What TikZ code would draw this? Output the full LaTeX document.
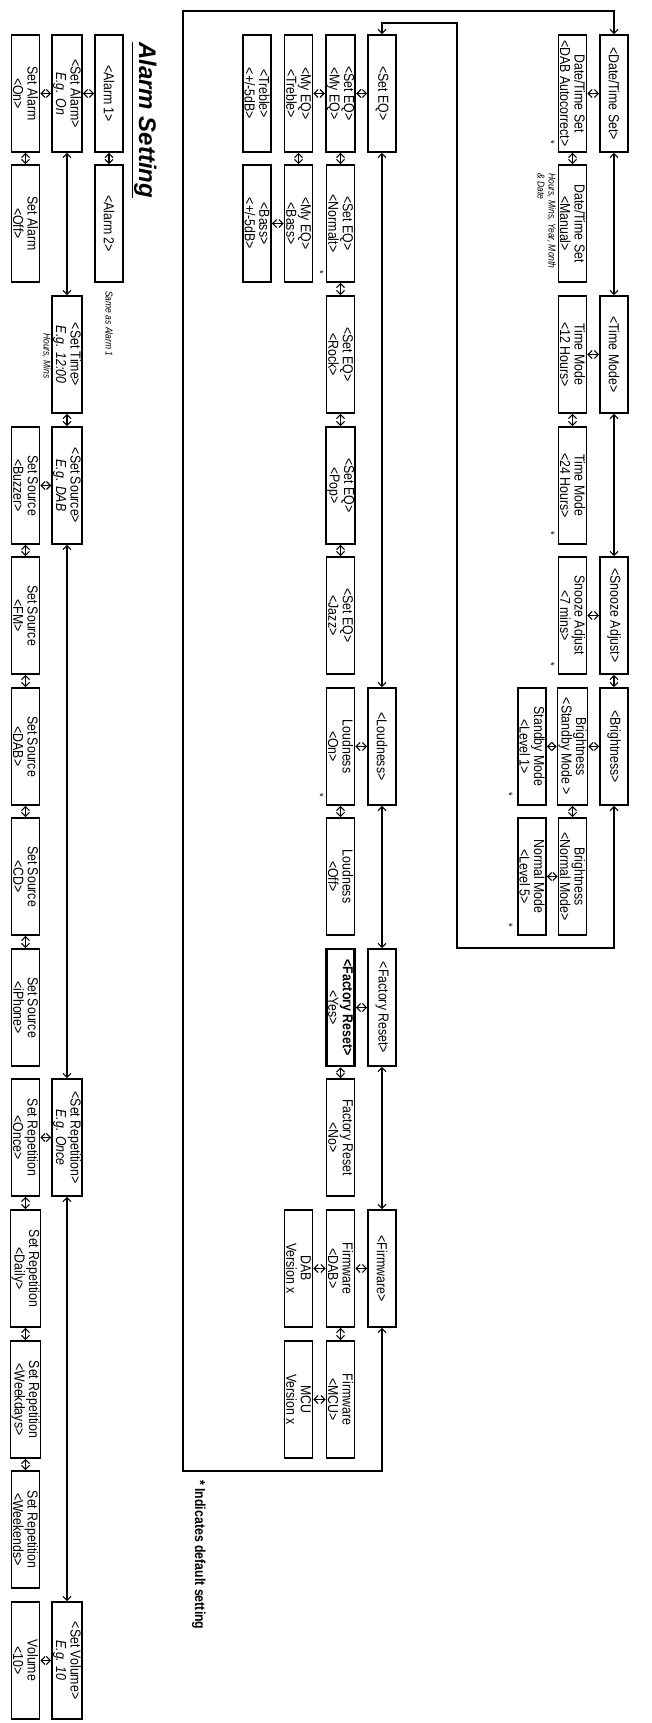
\documentclass[tikz,border=0pt]{standalone}
\usepackage{fontspec}
\setmainfont{Liberation Sans}[FakeStretch=0.85]
\newfontfamily\titlefont{Liberation Sans}
\usepackage{tikz}
\usetikzlibrary{arrows.meta}

\begin{document}
\begin{tikzpicture}[
  x=1pt, y=1pt, rotate=-90, transform shape,
  menu/.style={draw=black, line width=1.8pt, minimum width=117pt, minimum height=28pt, inner sep=1pt, align=center, font=\fontsize{14.5}{14.5}\selectfont},
  link/.style={{Straight Barb[length=4pt,width=8pt]}-{Straight Barb[length=4pt,width=8pt]}, line width=1.1pt},
  note/.style={inner sep=0pt, align=left, font=\fontsize{10}{11}\selectfont\itshape},
  dflt/.style={inner sep=0pt, font=\fontsize{11}{11}\selectfont},
]
\useasboundingbox (0,0) rectangle (1723,651);

% Alarm setting
\node[anchor=base west, inner sep=0pt, font=\titlefont\fontsize{24}{24}\selectfont\bfseries\itshape] (title) at (42,139) {\underline{Alarm Setting}};
\node[menu] (al1) at (93.5,109) {<Alarm 1>};
\node[menu] (al2) at (223.5,109) {<Alarm 2>};
\node[note, anchor=north west] (samenote) at (291,113) {Same as Alarm 1};

\node[menu] (salarm) at (93.5,67) {<Set Alarm>\\\textit{E.g. On}};
\node[menu] (stime) at (354.5,67) {<Set Time>\\\textit{E.g. 12:00}};
\node[note, anchor=north west] (hmsnote) at (333,51) {Hours, Mins};
\node[menu] (ssrc) at (485.5,67) {<Set Source>\\\textit{E.g. DAB}};
\node[menu] (srep) at (1137.5,67) {<Set Repetition>\\\textit{E.g. Once}};
\node[menu] (svol) at (1660.5,67) {<Set Volume>\\\textit{E.g. 10}};

\node[menu] (alon) at (93.5,25.5) {Set Alarm\\<On>};
\node[menu] (aloff) at (223.5,25.5) {Set Alarm\\<Off>};
\node[menu] (srcbuz) at (485.5,25.5) {Set Source\\<Buzzer>};
\node[menu] (srcfm) at (615.5,25.5) {Set Source\\<FM>};
\node[menu] (srcdab) at (746.5,25.5) {Set Source\\<DAB>};
\node[menu] (srccd) at (876.5,25.5) {Set Source\\<CD>};
\node[menu] (srcip) at (1007.5,25.5) {Set Source\\<iPhone>};
\node[menu] (reponce) at (1137.5,25.5) {Set Repetition\\<Once>};
\node[menu] (repdaily) at (1268.5,25.5) {Set Repetition\\<Daily>};
\node[menu] (repwkd) at (1399.5,25.5) {Set Repetition\\<Weekdays>};
\node[menu] (repwke) at (1529.5,25.5) {Set Repetition\\<Weekends>};
\node[menu] (vol) at (1660.5,25.5) {Volume\\<10>};

\draw[link] (al1.east) -- (al2.west);
\draw[link] (al1.south) -- (salarm.north);
\draw[link] (salarm.south) -- (alon.north);
\draw[link] (alon.east) -- (aloff.west);
\draw[link] (salarm.east) -- (stime.west);
\draw[link] (stime.east) -- (ssrc.west);
\draw[link] (ssrc.east) -- (srep.west);
\draw[link] (srep.east) -- (svol.west);
\draw[link] (ssrc.south) -- (srcbuz.north);
\draw[link] (srep.south) -- (reponce.north);
\draw[link] (svol.south) -- (vol.north);
\draw[link] (srcbuz.east) -- (srcfm.west);
\draw[link] (srcfm.east) -- (srcdab.west);
\draw[link] (srcdab.east) -- (srccd.west);
\draw[link] (srccd.east) -- (srcip.west);
\draw[link] (reponce.east) -- (repdaily.west);
\draw[link] (repdaily.east) -- (repwkd.west);
\draw[link] (repwkd.east) -- (repwke.west);

% Main menu: date, time, snooze, brightness
\node[menu] (dts) at (93.5,614) {<Date/Time Set>};
\node[menu] (tmode) at (354.5,614) {<Time Mode>};
\node[menu] (snz) at (615.5,614) {<Snooze Adjust>};
\node[menu] (brt) at (746.5,614) {<Brightness>};

\node[menu] (dtsauto) at (93.5,572.5) {Date/Time Set\\<DAB Autocorrect>};
\node[menu] (dtsman) at (223.5,572.5) {Date/Time Set\\<Manual>};
\node[note, anchor=north west] (hmnote) at (173,556) {Hours, Mins, Year, Month\\\& Date};
\node[menu] (tm12) at (354.5,572.5) {Time Mode\\<12 Hours>};
\node[menu] (tm24) at (485.5,572.5) {Time Mode\\<24 Hours>};
\node[menu] (snz7) at (615.5,572.5) {Snooze Adjust\\<7 mins>};
\node[menu] (brtsb) at (746.5,572.5) {Brightness\\<Standby Mode >};
\node[menu] (brtnm) at (876.5,572.5) {Brightness\\<Normal Mode>};
\node[menu] (sblvl) at (746.5,532) {Standby Mode\\<Level 1>};
\node[menu] (nmlvl) at (876.5,532) {Normal Mode\\<Level 5>};

\draw[link] (dts.south) -- (dtsauto.north);
\draw[link] (tmode.south) -- (tm12.north);
\draw[link] (snz.south) -- (snz7.north);
\draw[link] (brt.south) -- (brtsb.north);
\draw[link] (brtsb.south) -- (sblvl.north);
\draw[link] (brtnm.south) -- (nmlvl.north);
\draw[link] (dtsauto.east) -- (dtsman.west);
\draw[link] (tm12.east) -- (tm24.west);
\draw[link] (brtsb.east) -- (brtnm.west);
\draw[link] (dts.east) -- (tmode.west);
\draw[link] (tmode.east) -- (snz.west);
\draw[link] (snz.east) -- (brt.west);

% Main menu: EQ, loudness, reset, firmware
\node[menu] (seq) at (93.5,382) {<Set EQ>};
\node[menu] (loud) at (746.5,382) {<Loudness>};
\node[menu] (frst) at (1007.5,382) {<Factory Reset>};
\node[menu] (fw) at (1268.5,382) {<Firmware>};

\node[menu] (eqmy) at (93.5,340.5) {<Set EQ>\\<My EQ>};
\node[menu] (eqnorm) at (223.5,340.5) {<Set EQ>\\<Normalt>};
\node[menu] (eqrock) at (354.5,340.5) {<Set EQ>\\<Rock>};
\node[menu] (eqpop) at (485.5,340.5) {<Set EQ>\\<Pop>};
\node[menu] (eqjazz) at (615.5,340.5) {<Set EQ>\\<Jazz>};
\node[menu] (loudon) at (746.5,340.5) {Loudness\\<On>};
\node[menu] (loudoff) at (876.5,340.5) {Loudness\\<Off>};
\node[menu, line width=2.8pt] (frstyes) at (1007.5,340.5) {\textbf{<Factory Reset>}\\<Yes>};
\node[menu] (frstno) at (1137.5,340.5) {Factory Reset\\<No>};
\node[menu] (fwdab) at (1268.5,340.5) {Firmware\\<DAB>};
\node[menu] (fwmcu) at (1399.5,340.5) {Firmware\\<MCU>};

\node[menu] (mytreb) at (93.5,298.5) {<My EQ>\\<Treble>};
\node[menu] (mybass) at (223.5,298.5) {<My EQ>\\<Bass>};
\node[menu] (dabver) at (1268.5,298.5) {DAB\\Version x};
\node[menu] (mcuver) at (1399.5,298.5) {MCU\\Version x};
\node[menu] (treb) at (93.5,257) {<Treble>\\<+/-5dB>};
\node[menu] (bass) at (223.5,257) {<Bass>\\<+/-5dB>};

\draw[link] (seq.south) -- (eqmy.north);
\draw[link] (eqmy.south) -- (mytreb.north);
\draw[link] (mybass.south) -- (bass.north);
\draw[link] (loud.south) -- (loudon.north);
\draw[link] (frst.south) -- (frstyes.north);
\draw[link] (fw.south) -- (fwdab.north);
\draw[link] (fwdab.south) -- (dabver.north);
\draw[link] (fwmcu.south) -- (mcuver.north);
\draw[link] (eqmy.east) -- (eqnorm.west);
\draw[link] (eqnorm.east) -- (eqrock.west);
\draw[link] (eqrock.east) -- (eqpop.west);
\draw[link] (eqpop.east) -- (eqjazz.west);
\draw[link] (mytreb.east) -- (mybass.west);
\draw[link] (loudon.east) -- (loudoff.west);
\draw[link] (frstyes.east) -- (frstno.west);
\draw[link] (fwdab.east) -- (fwmcu.west);
\draw[link] (seq.east) -- (loud.west);
\draw[link] (loud.east) -- (frst.west);
\draw[link] (frst.east) -- (fw.west);

% Loops back to the top
\coordinate (ia) at (948,614);
\coordinate (ib) at (948,457);
\coordinate (ic) at (23,457);
\coordinate (id) at (23,382);
\draw[link] (brt.east) -- (ia) -- (ib) -- (ic) -- (id) -- (seq.west);
\coordinate (oa) at (1471,382);
\coordinate (ob) at (1471,183);
\coordinate (oc) at (11,183);
\coordinate (od) at (11,614);
\draw[link] (fw.east) -- (oa) -- (ob) -- (oc) -- (od) -- (dts.west);

% Default settings
\node[dflt] (d1) at (142,551) {*};
\node[dflt] (d2) at (533,551) {*};
\node[dflt] (d3) at (664,551) {*};
\node[dflt] (d4) at (794,509) {*};
\node[dflt] (d5) at (925,509) {*};
\node[dflt] (d6) at (272,320) {*};
\node[dflt] (d7) at (795,320) {*};
\node[anchor=base west, inner sep=0pt, font=\fontsize{14.5}{14.5}\selectfont\bfseries] (footnote) at (1480,195) {* Indicates default setting};

\end{tikzpicture}
\end{document}
